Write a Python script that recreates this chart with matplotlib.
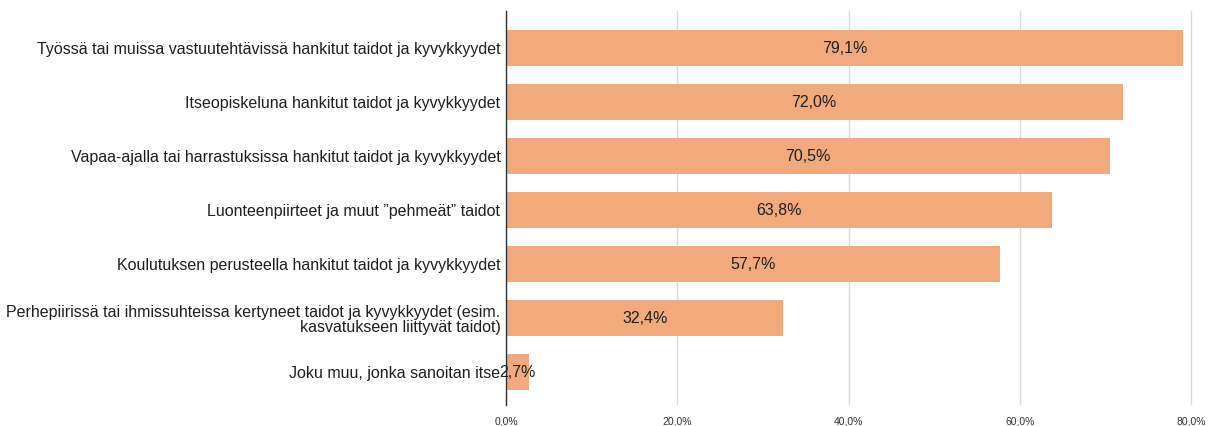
import matplotlib
matplotlib.use("Agg")
import matplotlib.pyplot as plt

categories = [
    "Työssä tai muissa vastuutehtävissä hankitut taidot ja kyvykkyydet",
    "Itseopiskeluna hankitut taidot ja kyvykkyydet",
    "Vapaa-ajalla tai harrastuksissa hankitut taidot ja kyvykkyydet",
    "Luonteenpiirteet ja muut \u201dpehmeät\u201d taidot",
    "Koulutuksen perusteella hankitut taidot ja kyvykkyydet",
    "Perhepiirissä tai ihmissuhteissa kertyneet taidot ja kyvykkyydet (esim.\nkasvatukseen liittyvät taidot)",
    "Joku muu, jonka sanoitan itse",
]
values = [79.1, 72.0, 70.5, 63.8, 57.7, 32.4, 2.7]
xticks = [0, 20, 40, 60, 80]

plt.rcParams['font.family'] = ['Liberation Sans', 'DejaVu Sans']

fig = plt.figure(figsize=(12.11, 4.26), dpi=100)
# axes placed in pixel terms of the reference
left = 506 / 1211
right = 1196 / 1211
top = 1 - 11 / 426
bottom = 1 - 405 / 426
ax = fig.add_axes([left, bottom, right - left, top - bottom])

ypos = list(range(len(categories)))
bars = ax.barh(ypos, values, height=0.66, color="#f2aa7c", zorder=3)

ax.set_xlim(0, 80 * (1196 - 506) / (1191 - 506))
ax.set_ylim(6.61, -0.69)
ax.set_yticks(ypos)
ax.set_yticklabels(categories, fontsize=11.5, color="#1f1f1f", linespacing=1.05)
ax.set_xticks(xticks)
ax.set_xticklabels([("%.1f%%" % t).replace(".", ",") for t in xticks],
                   fontsize=7.5, color="#333333")
ax.tick_params(axis="both", length=0)
ax.tick_params(axis="y", pad=4)
ax.tick_params(axis="x", pad=8)

for s in ["top", "right", "bottom"]:
    ax.spines[s].set_visible(False)
ax.spines["left"].set_color("#333333")
ax.spines["left"].set_linewidth(1.0)
ax.spines["left"].set_zorder(4)

ax.grid(axis="x", color="#d9d9d9", linewidth=1.0, zorder=0)
ax.set_axisbelow(True)

for b, v in zip(bars, values):
    txt = ("%.1f%%" % v).replace(".", ",")
    ax.text(v / 2, b.get_y() + b.get_height() / 2, txt,
            ha="center", va="center", fontsize=11.5, color="#1f1f1f", zorder=5)

fig.savefig("out.png", dpi=100)
